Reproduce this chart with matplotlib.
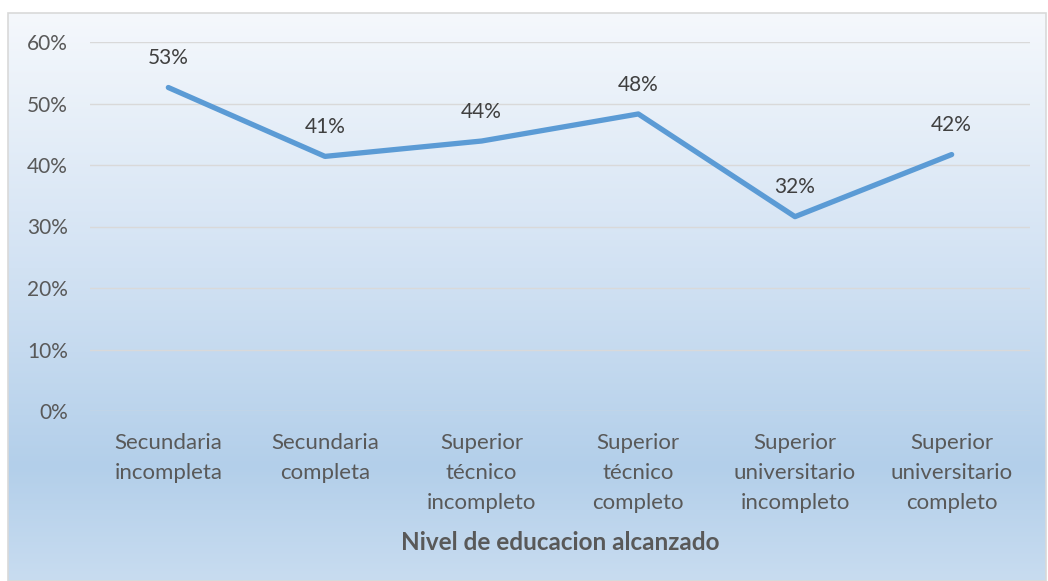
import numpy as np
import matplotlib.pyplot as plt
from matplotlib.colors import LinearSegmentedColormap
from matplotlib.patches import Rectangle
from matplotlib.ticker import PercentFormatter

# Datos
niveles = ['Secundaria\nincompleta', 'Secundaria\ncompleta', 'Superior\ntécnico\nincompleto',
           'Superior\ntécnico\ncompleto', 'Superior\nuniversitario\nincompleto',
           'Superior\nuniversitario\ncompleto']
porcentajes = [52.6, 41.4, 43.9, 48.3, 31.6, 41.7]
etiquetas = ['53%', '41%', '44%', '48%', '32%', '42%']

plt.rcParams['font.family'] = ['Lato', 'DejaVu Sans']
gris = '#595959'

fig = plt.figure(figsize=(10.48, 5.81), dpi=100)

# Fondo con degradado (area del grafico)
x0, y0 = 8 / 1048, 0.0
w, h = 1 - x0 - 2 / 1048, 1 - 13 / 581
bg = fig.add_axes([x0, y0, w, h], zorder=0)
cmap = LinearSegmentedColormap.from_list('fondo', [(0, '#c8dcf0'), (0.2, '#b3cfea'),
                                                   (0.55, '#d2e2f3'), (1, '#f5f8fc')])
grad = np.linspace(0, 1, 256).reshape(-1, 1)
bg.imshow(grad, aspect='auto', cmap=cmap, origin='lower', extent=[0, 1, 0, 1])
bg.set_axis_off()
fig.patches.append(Rectangle((x0, y0), w, h, transform=fig.transFigure, fill=False,
                             edgecolor='#d9d9d9', linewidth=1.2, zorder=5))

ax = fig.add_axes([90 / 1048, 1 - 411 / 581, 940 / 1048, 369 / 581], zorder=1)
ax.patch.set_alpha(0)
x = np.arange(len(niveles))
ax.plot(x, porcentajes, color='#5b9bd5', linewidth=3.8, solid_capstyle='round', zorder=3)
for xi, yi, t in zip(x, porcentajes, etiquetas):
    ax.annotate(t, (xi, yi), xytext=(0, 14), textcoords='offset points', ha='center',
                va='bottom', fontsize=15, color='#404040')

ax.set_xlim(-0.5, len(niveles) - 0.5)
ax.set_ylim(0, 60)
ax.set_yticks(range(0, 61, 10))
ax.yaxis.set_major_formatter(PercentFormatter(decimals=0))
ax.grid(axis='y', color='#d9d9d9', linewidth=1)
ax.set_axisbelow(True)
for s in ax.spines.values():
    s.set_visible(False)
ax.tick_params(axis='both', length=0, labelsize=15, labelcolor=gris)
ax.tick_params(axis='y', pad=16)
ax.tick_params(axis='x', pad=16, labelsize=16)
ax.set_xticks(x)
ax.set_xticklabels(niveles, linespacing=1.62)
ax.set_xlabel('Nivel de educacion alcanzado', fontsize=17.5, fontweight='bold', color=gris,
              labelpad=13)

fig.savefig('out.png', dpi=100)
